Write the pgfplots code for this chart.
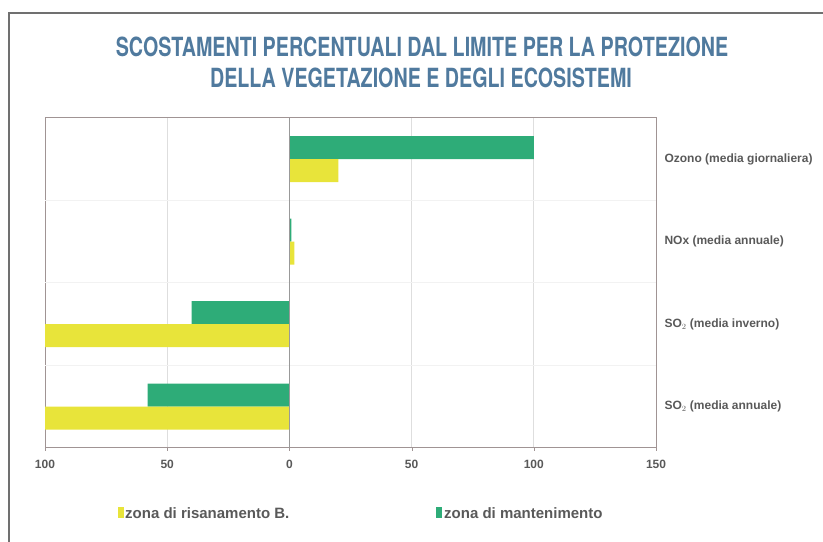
\documentclass[border=0pt]{standalone}
\usepackage{pgfplots}
\pgfplotsset{compat=1.18}
\usepackage{fontspec}
\setmainfont{Liberation Sans}
\newfontfamily\titlefont{TeX Gyre Heros}
\definecolor{titleblue}{RGB}{80,122,158}
\definecolor{barGreen}{RGB}{46,172,120}
\definecolor{barYellow}{RGB}{232,228,58}
\definecolor{frameGray}{RGB}{112,112,112}
\definecolor{axisGray}{RGB}{160,148,148}
\begin{document}
\begin{tikzpicture}[x=1bp,y=1bp]
\path[use as bounding box] (0,0) rectangle (823,542);
\draw[frameGray,line width=1.5bp] (9,0) -- (9,529) -- (823,529);
\node[anchor=base,text=titleblue] at (422,485) {\titlefont\bfseries\fontsize{26.4bp}{30bp}\selectfont\scalebox{0.746}[1]{SCOSTAMENTI PERCENTUALI DAL LIMITE PER LA PROTEZIONE}};
\node[anchor=base,text=titleblue] at (421,454) {\titlefont\bfseries\fontsize{26.4bp}{30bp}\selectfont\scalebox{0.746}[1]{DELLA VEGETAZIONE E DEGLI ECOSISTEMI}};
\begin{axis}[
  at={(45bp,94bp)}, anchor=south west,
  scale only axis, width=611bp, height=330bp,
  xmin=-100, xmax=150, ymin=-0.5, ymax=3.5,
  xtick={-100,-50,0,50,100,150},
  xticklabels={100,50,0,50,100,150},
  ytick={0,1,2,3},
  yticklabels={SO$_2$ (media annuale),SO$_2$ (media inverno),NOx (media annuale),Ozono (media giornaliera)},
  yticklabel pos=right,
  y tick label style={anchor=west,font=\fontsize{12bp}{13bp}\selectfont\bfseries,text=black!65,xshift=2bp},
  x tick label style={font=\fontsize{12bp}{13bp}\selectfont\bfseries,text=black!65,yshift=-6bp},
  /pgf/number format/assume math mode=true,
  tick align=outside, xtick pos=bottom, major tick length=3bp,
  ytick style={draw=none},
  xtick style={axisGray},
  axis line style={axisGray,line width=1bp},
  xmajorgrids, grid style={black!13,line width=0.8bp},
  extra y ticks={0.5,1.5,2.5}, extra y tick labels={},
  extra y tick style={grid=major, major grid style={black!5,line width=1bp}, tick style={draw=none}},
  xbar, bar width=23bp,
]
\addplot[fill=barGreen, draw=none, bar shift=11.5bp, forget plot] coordinates {(-58,0) (-40,1) (0.8,2) (100,3)};
\addplot[fill=barYellow, draw=none, bar shift=-11.5bp, forget plot] coordinates {(-100,0) (-100,1) (2,2) (20,3)};
\draw[black!40,line width=1bp] (axis cs:0,-0.5) -- (axis cs:0,3.5);
\end{axis}
\fill[barYellow] (118,24) rectangle (124,35);
\node[anchor=west,font=\fontsize{15bp}{16bp}\selectfont\bfseries,text=black!65,inner sep=0] at (125,29) {zona di risanamento B.};
\fill[barGreen] (436,24) rectangle (442,35);
\node[anchor=west,font=\fontsize{15bp}{16bp}\selectfont\bfseries,text=black!65,inner sep=0] at (444,29) {zona di mantenimento};
\end{tikzpicture}
\end{document}
